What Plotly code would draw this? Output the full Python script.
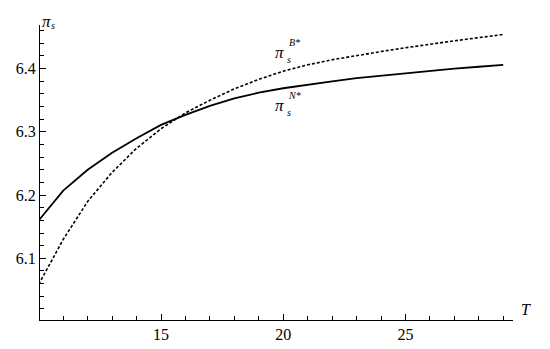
import plotly.graph_objects as go

# values
T = [10, 11, 12, 13, 14, 15, 16, 17, 18, 19, 20, 21, 22, 23, 24, 25, 26, 27, 28, 29]
pi_N = [6.160, 6.207, 6.240, 6.267, 6.290, 6.311, 6.327, 6.341, 6.353, 6.362,
        6.369, 6.375, 6.380, 6.385, 6.389, 6.393, 6.396, 6.400, 6.403, 6.406]
pi_B = [6.059, 6.130, 6.190, 6.236, 6.274, 6.305, 6.330, 6.350, 6.368, 6.383,
        6.396, 6.406, 6.414, 6.421, 6.427, 6.433, 6.439, 6.444, 6.449, 6.454]

serif = "Liberation Serif"
big = dict(family=serif, size=17, color="black", style="italic")
small = dict(family=serif, size=10, color="black", style="italic")

fig = go.Figure()
fig.add_trace(go.Scatter(x=T, y=pi_N, mode="lines",
                         line=dict(color="black", width=1.8)))
fig.add_trace(go.Scatter(x=T, y=pi_B, mode="lines",
                         line=dict(color="black", width=1.6, dash="3px,2px")))

# ranges start a hair past the origin so the 10 / 6.0 labels are not drawn
fig.update_xaxes(range=[10.05, 29.4], nticks=5, showgrid=False, zeroline=False,
                 showline=True, linecolor="black",
                 ticks="inside", ticklen=6, tickcolor="black",
                 tickfont=dict(family=serif, size=16, color="black"),
                 minor=dict(ticks="inside", ticklen=4, tickcolor="black"))
fig.update_yaxes(range=[6.0025, 6.469], nticks=6, showgrid=False, zeroline=False,
                 showline=True, linecolor="black",
                 ticks="inside", ticklen=6, tickcolor="black",
                 tickfont=dict(family=serif, size=16, color="black"),
                 minor=dict(ticks="inside", ticklen=4, tickcolor="black"))

# axis labels (plain text, sub/superscripts as separate small labels)
fig.add_annotation(text="π", xref="paper", yref="paper", x=0.0, y=1.05,
                   showarrow=False, font=big)
fig.add_annotation(text="s", xref="paper", yref="paper", x=0.018, y=1.025,
                   showarrow=False, font=small)
fig.add_annotation(text="T", xref="paper", yref="paper", x=1.043, y=0.0,
                   showarrow=False, font=dict(family=serif, size=16, color="black",
                                              style="italic"))

# curve labels
fig.add_annotation(text="π", x=19.85, y=6.426, showarrow=False, font=big)
fig.add_annotation(text="s", x=20.25, y=6.414, showarrow=False, font=small)
fig.add_annotation(text="B*", x=20.45, y=6.442, showarrow=False, font=small)
fig.add_annotation(text="π", x=19.85, y=6.342, showarrow=False, font=big)
fig.add_annotation(text="s", x=20.25, y=6.330, showarrow=False, font=small)
fig.add_annotation(text="N*", x=20.45, y=6.358, showarrow=False, font=small)

# the page body adds an 8px margin, so the figure is 8px smaller than the window
fig.update_layout(
    width=542, height=341,
    margin=dict(l=32, r=37, t=17, b=29, autoexpand=False),
    plot_bgcolor="white", paper_bgcolor="white",
    showlegend=False,
)

fig.write_html("out.html")
